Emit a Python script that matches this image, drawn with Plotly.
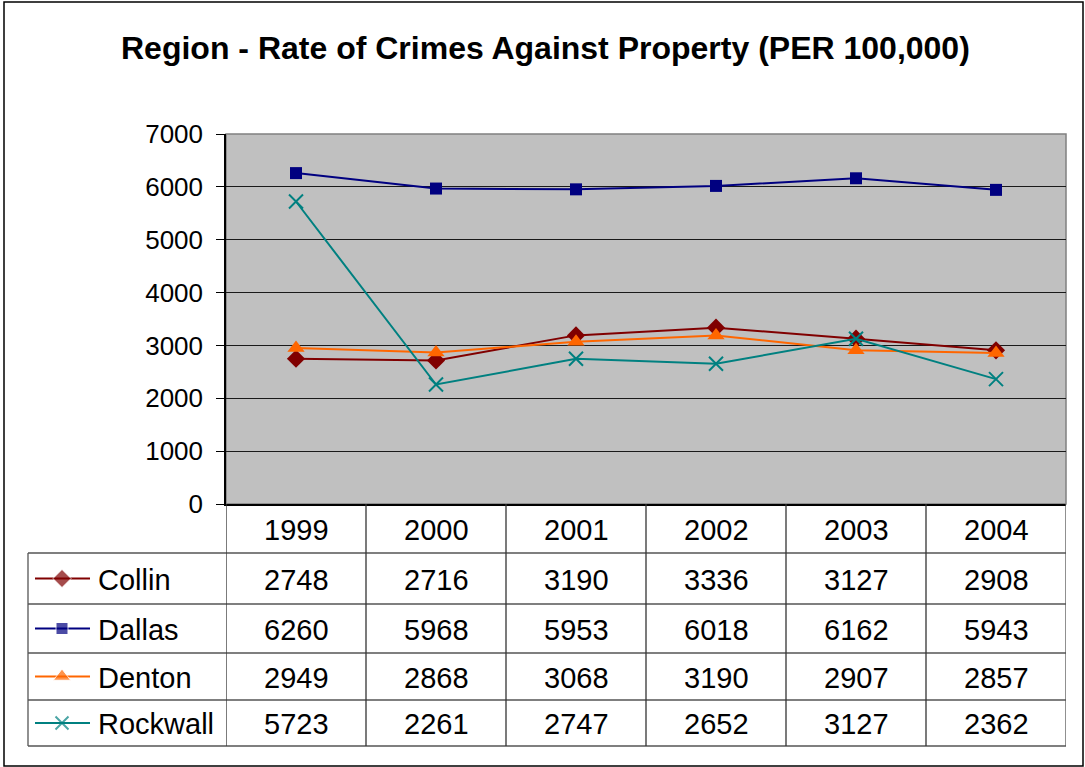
import plotly.graph_objects as go

# ---- data ----
years = ["1999", "2000", "2001", "2002", "2003", "2004"]
collin = [2748, 2716, 3190, 3336, 3127, 2908]
dallas = [6260, 5968, 5953, 6018, 6162, 5943]
denton = [2949, 2868, 3068, 3190, 2907, 2857]
rockwall = [5723, 2261, 2747, 2652, 3127, 2362]
series_names = ["Collin", "Dallas", "Denton", "Rockwall"]
y_ticks = [0, 1000, 2000, 3000, 4000, 5000, 6000, 7000]
title_text = "Region - Rate of Crimes Against Property (PER 100,000)"

# ---- styles / layout (pixels) ----
W, H = 1085, 767
PL, PR, PT, PB = 226, 1066, 134, 504
ROWS = [504, 553, 604, 653, 700, 746]
TABLE_L = 28
KEY_L, KEY_R = 28, 98
FONT = "Liberation Sans, Arial, sans-serif"


def px(x):
    return x / W


def py(y):
    return 1 - y / H


styles = [
    dict(color="#800000", symbol="diamond", size=14, ksize=14),
    dict(color="#000080", symbol="square", size=12, ksize=12),
    dict(color="#FF6600", symbol="triangle-up", size=15, ksize=15),
    dict(color="#008080", symbol="x-thin", size=14, ksize=13),
]
values = [collin, dallas, denton, rockwall]

fig = go.Figure()

idx = list(range(len(years)))
for name, vals, st in zip(series_names, values, styles):
    marker = dict(symbol=st["symbol"], size=st["size"], color=st["color"])
    if st["symbol"] == "x-thin":
        marker["line"] = dict(color=st["color"], width=2)
    fig.add_trace(go.Scatter(
        x=idx, y=vals, mode="lines+markers", name=name,
        line=dict(color=st["color"], width=2), marker=marker,
        xaxis="x", yaxis="y", showlegend=False, cliponaxis=False,
    ))

# legend keys inside the data table (small pixel-scaled subplot)
for i, (name, st) in enumerate(zip(series_names, styles)):
    yc = (ROWS[i + 1] + ROWS[i + 2]) / 2
    marker = dict(symbol=st["symbol"], size=[0, st["ksize"], 0], color=st["color"])
    if st["symbol"] == "x-thin":
        marker["line"] = dict(color=st["color"], width=2)
    fig.add_trace(go.Scatter(
        x=[35, 62, 90], y=[yc, yc, yc], mode="lines+markers",
        line=dict(color=st["color"], width=2), marker=marker,
        xaxis="x2", yaxis="y2", showlegend=False, hoverinfo="skip", cliponaxis=False))

shapes = []
annotations = []

# plot area background (below grid) and border
shapes.append(dict(type="rect", xref="x domain", yref="y domain", x0=0, x1=1, y0=0, y1=1,
                   fillcolor="#C0C0C0", line=dict(width=0), layer="below"))
shapes.append(dict(type="rect", xref="x domain", yref="y domain", x0=0, x1=1, y0=0, y1=1,
                   fillcolor="rgba(0,0,0,0)", line=dict(color="#808080", width=1.5), layer="below"))
# outer chart border
shapes.append(dict(type="rect", xref="paper", yref="paper", x0=px(4), x1=px(1083), y0=py(2), y1=py(766),
                   line=dict(color="#000000", width=1.5)))

# table grid
tcol = "#555555"
for yv in ROWS[1:]:
    shapes.append(dict(type="line", xref="paper", yref="paper", x0=px(TABLE_L), x1=px(PR),
                       y0=py(yv), y1=py(yv), line=dict(color=tcol, width=1.3)))
shapes.append(dict(type="line", xref="paper", yref="paper", x0=px(TABLE_L), x1=px(TABLE_L),
                   y0=py(ROWS[1]), y1=py(ROWS[-1]), line=dict(color=tcol, width=1.3)))
for i in range(len(years) + 1):
    shapes.append(dict(type="line", xref="x", yref="paper", x0=i - 0.5, x1=i - 0.5,
                       y0=py(ROWS[0]), y1=py(ROWS[-1]),
                       line=dict(color=tcol if i == len(years) else "#333333", width=1.3)))

TFONT = dict(family=FONT, size=29, color="#000")
# header labels
for i, yr in enumerate(years):
    annotations.append(dict(xref="x", yref="paper", x=i, y=py((ROWS[0] + ROWS[1]) / 2 + 1),
                            text=yr, showarrow=False, font=TFONT,
                            xanchor="center", yanchor="middle"))
# row labels and values
for r, (name, vals) in enumerate(zip(series_names, values)):
    yc = py((ROWS[r + 1] + ROWS[r + 2]) / 2 + 1)
    annotations.append(dict(xref="paper", yref="paper", x=px(96), y=yc, text=name,
                            xanchor="left", yanchor="middle", showarrow=False, font=TFONT))
    for i, v in enumerate(vals):
        annotations.append(dict(xref="x", yref="paper", x=i, y=yc, text=str(v),
                                xanchor="center", yanchor="middle", showarrow=False, font=TFONT))

# title
annotations.append(dict(xref="paper", yref="paper", x=px(545), y=py(48), text="<b>" + title_text + "</b>",
                        xanchor="center", yanchor="middle",
                        showarrow=False, font=dict(family=FONT, size=32, color="#000")))

fig.update_layout(
    width=W, height=H,
    margin=dict(l=0, r=0, t=0, b=0, pad=0, autoexpand=False),
    paper_bgcolor="#FFFFFF",
    plot_bgcolor="rgba(0,0,0,0)",
    showlegend=False,
    shapes=shapes,
    annotations=annotations,
    xaxis=dict(
        domain=[px(PL), px(PR)], range=[-0.5, 5.5],
        showticklabels=False, showgrid=False, zeroline=False,
        showline=True, linecolor="#000000", linewidth=1.5, ticks="", fixedrange=True,
    ),
    yaxis=dict(
        domain=[py(PB), py(PT)], range=[0, 7000], tickvals=y_ticks,
        showgrid=True, gridcolor="#1a1a1a", gridwidth=1, zeroline=False,
        showline=True, linecolor="#000000", linewidth=1.5,
        ticks="outside", ticklen=8, tickcolor="#000000", tickwidth=1.2,
        ticklabelstandoff=8, fixedrange=True,
        tickfont=dict(family=FONT, size=26, color="#000000"),
    ),
    xaxis2=dict(domain=[px(KEY_L), px(KEY_R)], range=[KEY_L, KEY_R], visible=False,
                fixedrange=True, anchor="y2"),
    yaxis2=dict(domain=[py(ROWS[-1]), py(ROWS[1])], range=[ROWS[-1], ROWS[1]], visible=False,
                fixedrange=True, anchor="x2"),
)

fig.write_html("out.html", config={"displayModeBar": False},
               post_script="document.body.style.margin='0';document.body.style.overflow='hidden';")
